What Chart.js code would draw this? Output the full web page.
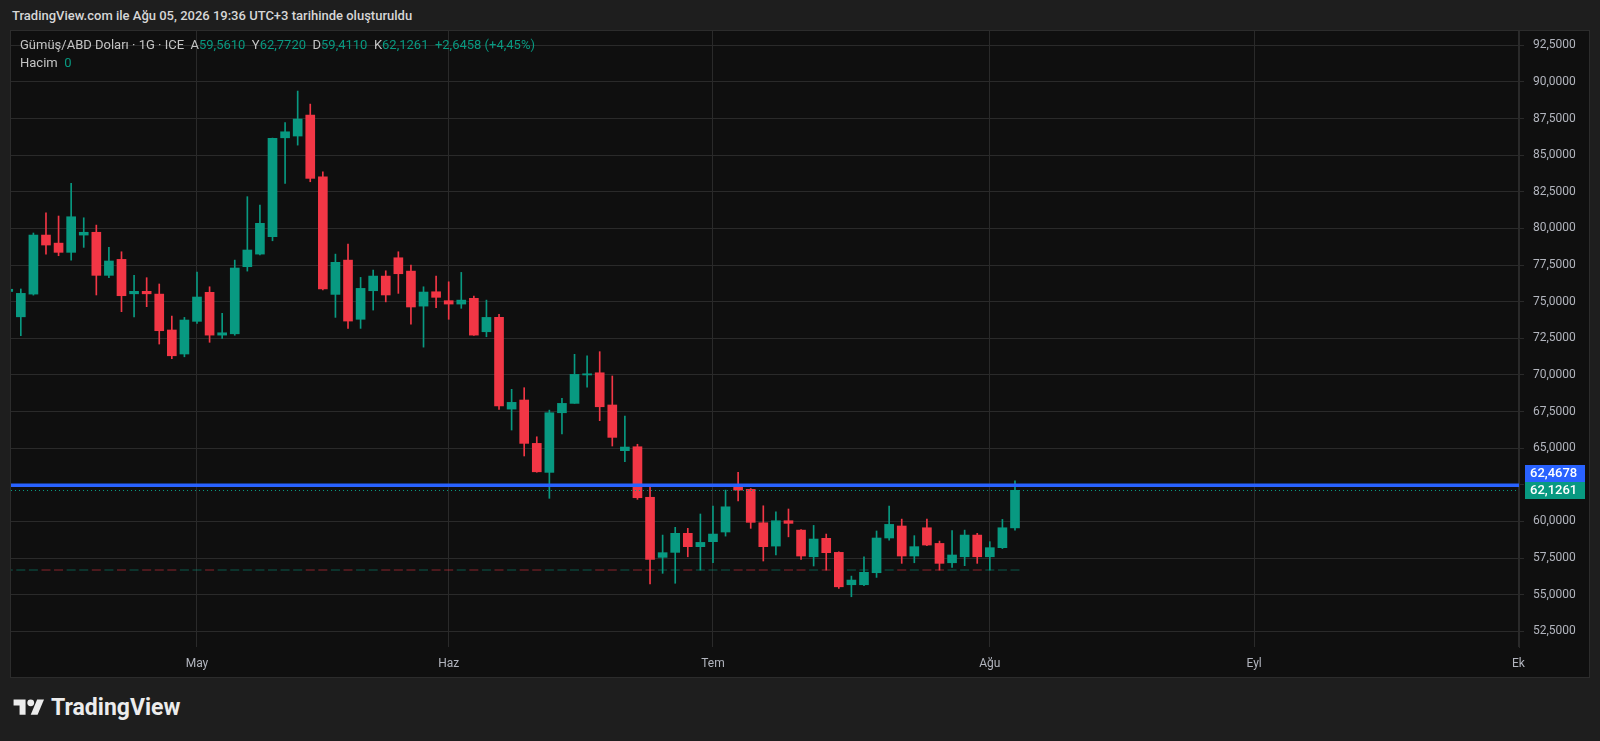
<!DOCTYPE html>
<html lang="tr">
<head>
    <meta charset="UTF-8">
    <title>Gümüş/ABD Doları · 1G · ICE</title>
    <script src="https://cdn.jsdelivr.net/npm/chart.js"></script>
    <style>
        body {
            margin: 0;
            width: 1600px;
            height: 741px;
            overflow: hidden;
            background: #1e1e1e;
            font-family: Roboto, "Noto Sans", sans-serif;
        }
        .snap-title {
            position: absolute;
            left: 12px;
            top: 8px;
            color: #d6d6d6;
            font-size: 13px;
            font-weight: 500;
        }
        .pane {
            position: absolute;
            left: 11px;
            top: 31px;
            width: 1578px;
            height: 646px;
            background: #0f0f0f;
            outline: 1px solid #2c2c2c;
        }
        .legend {
            position: absolute;
            left: 9px;
            top: 5px;
            font-size: 13px;
            line-height: 18px;
            color: #c4c4c4;
            pointer-events: none;
        }
        .legend .v { color: #089981; }
        .logo {
            position: absolute;
            left: 12px;
            top: 694px;
            display: flex;
            align-items: center;
            color: #ececec;
            font-size: 23px;
            font-weight: 700;
        }
        .logo svg { margin-right: 5px; }
    </style>
</head>
<body>
    <div class="snap-title">TradingView.com ile Ağu 05, 2026 19:36 UTC+3 tarihinde oluşturuldu</div>
    <div class="pane">
        <canvas id="silverChart" width="1578" height="646"></canvas>
        <div class="legend">
            <div>Gümüş/ABD Doları · 1G · ICE&nbsp; A<span class="v">59,5610</span>&nbsp; Y<span class="v">62,7720</span>&nbsp; D<span class="v">59,4110</span>&nbsp; K<span class="v">62,1261</span>&nbsp; <span class="v">+2,6458 (+4,45%)</span></div>
            <div>Hacim&nbsp; <span class="v">0</span></div>
        </div>
    </div>
    <div class="logo">
        <svg width="34" height="24" viewBox="0 0 36 28"><path fill="#ececec" d="M14 22H7V11H0V4h14v18z"/><circle fill="#ececec" cx="20" cy="8" r="4"/><path fill="#ececec" d="M28 22h-8l7.5-18h8L28 22z"/></svg>
        <span>TradingView</span>
    </div>
    <script>
        // daily bars, first one is cut by the left edge
        const firstBar = -1;
        const opens  = [75.70, 73.97, 75.52, 79.55, 79.00, 78.37, 79.55, 79.74, 76.80, 77.89, 75.54, 75.71, 75.52, 73.07, 71.43, 73.66, 75.64, 72.72, 72.81, 77.39,
                        78.25, 79.44, 86.19, 86.31, 87.74, 83.53, 75.50, 77.84, 73.80, 75.75, 76.75, 78.00, 77.09, 74.70, 75.68, 75.07, 74.84, 75.23, 72.95, 73.93,
                        67.67, 68.29, 65.33, 63.35, 67.42, 68.06, 70.00, 70.15, 67.95, 64.83, 65.10, 61.65, 57.55, 57.89, 59.19, 58.28, 58.62, 59.28, 62.42, 62.19,
                        59.91, 58.32, 60.05, 59.41, 57.59, 58.85, 57.89, 55.68, 55.68, 56.50, 58.87, 59.69, 57.64, 59.57, 58.50, 57.18, 57.59, 59.07, 57.59, 58.21,
                        59.561];
        const highs  = [76.00, 75.87, 79.69, 81.07, 80.85, 83.08, 80.73, 80.23, 78.71, 78.41, 76.80, 76.64, 76.21, 74.02, 73.93, 77.03, 76.02, 74.21, 77.84, 82.17,
                        81.60, 86.17, 87.22, 89.38, 88.49, 83.87, 78.25, 78.94, 76.66, 77.16, 77.11, 78.41, 77.50, 76.02, 76.75, 76.36, 77.00, 75.39, 75.11, 74.14,
                        69.02, 69.13, 65.78, 67.60, 68.40, 71.41, 71.31, 71.59, 69.93, 67.20, 65.27, 62.37, 59.07, 59.60, 59.53, 60.51, 61.05, 62.14, 63.35, 62.25,
                        61.07, 60.66, 60.85, 59.45, 59.73, 59.14, 57.93, 56.27, 57.59, 59.35, 61.05, 60.16, 59.03, 60.16, 58.66, 59.37, 59.41, 59.19, 58.62, 60.14,
                        62.772];
        const lows   = [75.50, 72.68, 75.45, 78.25, 78.14, 77.84, 78.71, 75.46, 76.64, 74.32, 73.97, 74.66, 72.11, 71.11, 71.24, 73.52, 72.23, 72.50, 72.71, 77.09,
                        78.20, 79.16, 83.08, 85.69, 83.19, 75.80, 73.93, 73.18, 73.18, 74.43, 74.99, 75.57, 73.46, 71.90, 74.59, 73.80, 74.55, 72.70, 72.61, 67.65,
                        66.24, 64.47, 63.36, 61.58, 65.97, 68.06, 69.16, 66.88, 65.15, 64.08, 61.51, 55.73, 56.46, 55.78, 57.59, 56.68, 57.18, 59.00, 61.41, 59.53,
                        57.30, 57.71, 58.95, 57.41, 56.96, 56.68, 55.43, 54.86, 55.61, 56.18, 58.73, 57.14, 57.18, 58.35, 56.68, 56.87, 56.98, 57.14, 56.68, 58.15,
                        59.411];
        const closes = [75.85, 75.57, 79.55, 78.87, 78.37, 80.80, 79.74, 76.80, 77.78, 75.41, 75.71, 75.54, 73.02, 71.31, 73.75, 75.32, 72.72, 72.88, 77.30, 78.53,
                        80.35, 86.15, 86.60, 87.47, 83.42, 75.87, 77.69, 73.68, 75.91, 76.75, 75.46, 76.91, 74.64, 75.66, 75.30, 74.84, 75.11, 72.72, 73.93, 67.88,
                        68.13, 65.33, 63.39, 67.42, 68.06, 70.04, 70.08, 67.83, 65.74, 65.08, 61.62, 57.41, 57.87, 59.19, 58.28, 58.57, 59.14, 61.00, 62.14, 59.94,
                        58.28, 60.05, 59.87, 57.64, 58.80, 57.87, 55.54, 56.00, 56.53, 58.87, 59.80, 57.64, 58.28, 58.39, 57.14, 57.71, 59.07, 57.59, 58.21, 59.57,
                        62.1261];
        const volumes = opens.map(() => 0);

        // first bar of each month and the axis names
        const monthBars  = [14, 34, 55, 77, 98, 119];
        const monthNames = ['May', 'Haz', 'Tem', 'Ağu', 'Eyl', 'Ek'];
        const priceTicks = [52.5, 55, 57.5, 60, 62.5, 65, 67.5, 70, 72.5, 75, 77.5, 80, 82.5, 85, 87.5, 90, 92.5];

        const alertLevel = 62.4678;
        const lastPrice = 62.1261;

        const UP = '#089981';
        const DOWN = '#f23645';
        const GRID = '#2a2a2a';

        const bars = opens.map((o, i) => firstBar + i);
        const colors = opens.map((o, i) => closes[i] >= o ? UP : DOWN);
        const volColors = opens.map((o, i) => closes[i] >= o ? 'rgba(8,153,129,0.55)' : 'rgba(242,54,69,0.55)');
        const fmt = v => v.toFixed(4).replace('.', ',');

        const priceLines = {
            id: 'priceLines',
            afterDatasetsDraw(chart) {
                const { ctx, chartArea: a, scales: { y } } = chart;
                ctx.save();
                ctx.beginPath();
                ctx.rect(a.left, a.top, a.width, a.height);
                ctx.clip();
                const yl = Math.round(y.getPixelForValue(lastPrice)) + 0.5;
                ctx.strokeStyle = UP;
                ctx.lineWidth = 1;
                ctx.setLineDash([1, 3]);
                ctx.beginPath();
                ctx.moveTo(a.left, yl);
                ctx.lineTo(a.right, yl);
                ctx.stroke();
                const ya = y.getPixelForValue(alertLevel);
                ctx.setLineDash([]);
                ctx.strokeStyle = '#2962ff';
                ctx.lineWidth = 3.5;
                ctx.beginPath();
                ctx.moveTo(a.left, ya);
                ctx.lineTo(a.right, ya);
                ctx.stroke();
                ctx.restore();
            },
            afterDraw(chart) {
                const { ctx, chartArea: a, scales: { y } } = chart;
                const h = 17, w = 60, x = a.right + 6;
                const yl = y.getPixelForValue(lastPrice);
                const tealTop = Math.round(yl - h / 2);
                const blueTop = tealTop - h;
                ctx.save();
                ctx.font = '500 13px Roboto';
                ctx.textBaseline = 'middle';
                ctx.fillStyle = '#2962ff';
                ctx.fillRect(x, blueTop, w, h);
                ctx.fillStyle = UP;
                ctx.fillRect(x, tealTop, w, h);
                ctx.fillStyle = '#ffffff';
                ctx.fillText(fmt(alertLevel), x + 5, blueTop + h / 2 + 0.5);
                ctx.fillText(fmt(lastPrice), x + 5, tealTop + h / 2 + 0.5);
                ctx.restore();
            }
        };

        Chart.defaults.font.family = 'Roboto, "Noto Sans", sans-serif';

        new Chart(document.getElementById('silverChart'), {
            type: 'bar',
            data: {
                datasets: [
                    {
                        label: 'Fitil',
                        data: bars.map((b, i) => ({ x: b, y: [lows[i], highs[i]] })),
                        backgroundColor: colors,
                        barThickness: 1,
                        grouped: false,
                        order: 3
                    },
                    {
                        label: 'Gövde',
                        data: bars.map((b, i) => ({ x: b, y: [opens[i], closes[i]] })),
                        backgroundColor: colors,
                        barThickness: 9,
                        minBarLength: 1,
                        grouped: false,
                        order: 2
                    },
                    {
                        type: 'line',
                        label: 'Hacim',
                        data: bars.map((b, i) => ({ x: b, y: volumes[i] })),
                        yAxisID: 'yv',
                        showLine: false,
                        pointStyle: 'line',
                        pointRadius: 4.5,
                        pointBorderWidth: 1,
                        pointBorderColor: volColors,
                        pointBackgroundColor: volColors,
                        order: 1
                    }
                ]
            },
            options: {
                responsive: false,
                animation: false,
                layout: { padding: 0, autoPadding: false },
                plugins: {
                    legend: { display: false },
                    tooltip: { enabled: false }
                },
                scales: {
                    x: {
                        type: 'linear',
                        bounds: 'data',
                        min: -0.78,
                        max: 119.05,
                        offset: false,
                        afterBuildTicks: scale => {
                            scale.ticks = monthBars.map(v => ({ value: v }));
                        },
                        afterFit: scale => {
                            scale.height = 30;
                            scale.paddingLeft = 0;
                            scale.paddingRight = 0;
                        },
                        grid: { color: GRID, offset: false, drawTicks: false },
                        border: { display: false },
                        ticks: {
                            autoSkip: false,
                            maxRotation: 0,
                            padding: 10,
                            color: '#b2b5be',
                            font: { size: 12 },
                            callback: v => monthNames[monthBars.indexOf(v)] || ''
                        }
                    },
                    y: {
                        position: 'right',
                        bounds: 'data',
                        min: 51.43,
                        max: 93.48,
                        afterBuildTicks: scale => {
                            scale.ticks = priceTicks.map(v => ({ value: v }));
                        },
                        afterFit: scale => {
                            scale.width = 70;
                            scale.paddingTop = 0;
                            scale.paddingBottom = 0;
                        },
                        grid: { color: GRID, tickLength: 5, tickColor: GRID },
                        border: { display: true, color: GRID },
                        ticks: {
                            autoSkip: false,
                            padding: 9,
                            color: '#b2b5be',
                            font: { size: 12 },
                            callback: v => fmt(v)
                        }
                    },
                    yv: {
                        display: false,
                        bounds: 'data',
                        min: -1,
                        max: 7
                    }
                }
            },
            plugins: [priceLines]
        });
    </script>
</body>
</html>
